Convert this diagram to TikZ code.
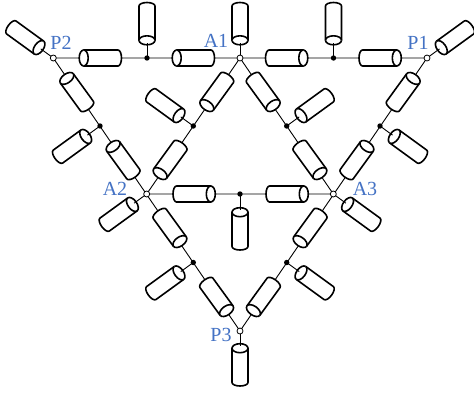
\documentclass[tikz,border=0pt]{standalone}
\usepackage{fontspec}
\setmainfont{Liberation Serif}
\definecolor{lab}{HTML}{4472C4}
\tikzset{
  x=1pt,y=-1pt,
  cylbody/.style={draw=black,fill=white,line width=1.6pt,line join=round},
  cyl/.pic={
    \path[cylbody] (-17.5,8) -- (16.8,8) arc[start angle=270,end angle=450,x radius=4.5,y radius=-8] -- (-17.5,-8) arc[start angle=90,end angle=270,x radius=3.5,y radius=-8] -- cycle;
    \path[cylbody] (16.8,8) arc[start angle=270,end angle=90,x radius=4.5,y radius=-8];
    \coordinate (-face) at (19,0);
  },
  open/.style={circle,draw=black,fill=white,line width=.8pt,minimum size=6pt,inner sep=0pt,outer sep=0pt},
  jdot/.style={circle,fill=black,minimum size=5.4pt,inner sep=0pt,outer sep=0pt},
  lbl/.style={text=lab,font=\fontsize{20}{20}\selectfont,inner sep=0pt},
  wire/.style={line width=.9pt,black}
}
\begin{document}
\begin{tikzpicture}
\useasboundingbox (0,0) rectangle (474,392);
\coordinate (P2) at (53.3,58);
\coordinate (A1) at (240,58);
\coordinate (P1) at (427,58);
\coordinate (A2) at (146.7,194);
\coordinate (A3) at (333.3,194);
\coordinate (P3) at (240,331);
\coordinate (Mt1) at (147,58);
\coordinate (Mt2) at (333.5,58);
\coordinate (Mb) at (240,194);
\coordinate (Ml1) at (100,126);
\coordinate (Ml2) at (193.3,126);
\coordinate (Mr1) at (286.7,126);
\coordinate (Mr2) at (380,126);
\coordinate (Md1) at (193.3,262.5);
\coordinate (Md2) at (286.7,262.5);
% wires
\draw[wire] (P2)--(A1)--(P1)--(P3)--(P2);
\draw[wire] (A1)--(A2)--(A3)--(A1);
% cylinders along the edges
\pic[rotate=180] (c1) at (100.5,58) {cyl};
\pic[rotate=180] (c2) at (193.5,58) {cyl};
\pic[rotate=0] (c3) at (286.5,58) {cyl};
\pic[rotate=0] (c4) at (380,58) {cyl};
\pic[rotate=0] (c5) at (194,194) {cyl};
\pic[rotate=0] (c6) at (287,194) {cyl};
\pic[rotate=126] (c7) at (76.7,92) {cyl};
\pic[rotate=126] (c8) at (123,160) {cyl};
\pic[rotate=234] (c9) at (216.7,92) {cyl};
\pic[rotate=234] (c10) at (170,160) {cyl};
\pic[rotate=-54] (c11) at (263.3,92) {cyl};
\pic[rotate=-54] (c12) at (310,160) {cyl};
\pic[rotate=54] (c13) at (403.3,92) {cyl};
\pic[rotate=54] (c14) at (357,160) {cyl};
\pic[rotate=-54] (c15) at (170,228) {cyl};
\pic[rotate=-54] (c16) at (216.7,297) {cyl};
\pic[rotate=234] (c17) at (310,228) {cyl};
\pic[rotate=234] (c18) at (263.3,297) {cyl};
% stubs
\pic[rotate=-90] (s1) at (147,23.5) {cyl};
\pic[rotate=-90] (s2) at (240,23.5) {cyl};
\pic[rotate=-90] (s3) at (333.5,23.5) {cyl};
\pic[rotate=90] (s4) at (240,229) {cyl};
\pic[rotate=90] (s5) at (240,365) {cyl};
\pic[rotate=-36] (s6) at (25.4,37.7) {cyl};
\pic[rotate=216] (s7) at (454.9,37.7) {cyl};
\pic[rotate=36] (s8) at (72.1,146.3) {cyl};
\pic[rotate=-36] (s9) at (165.4,105.7) {cyl};
\pic[rotate=216] (s10) at (314.6,105.7) {cyl};
\pic[rotate=144] (s11) at (407.9,146.3) {cyl};
\pic[rotate=36] (s12) at (165.4,282.8) {cyl};
\pic[rotate=144] (s13) at (314.6,282.8) {cyl};
\pic[rotate=36] (s14) at (118.8,214.3) {cyl};
\pic[rotate=144] (s15) at (361.2,214.3) {cyl};
% stub wires
\draw[wire] (Mt1)--(s1-face) (A1)--(s2-face) (Mt2)--(s3-face) (Mb)--(s4-face) (P3)--(s5-face);
\draw[wire] (P2)--(s6-face) (P1)--(s7-face) (Ml1)--(s8-face) (Ml2)--(s9-face) (Mr1)--(s10-face) (Mr2)--(s11-face) (Md1)--(s12-face) (Md2)--(s13-face) (A2)--(s14-face) (A3)--(s15-face);
% junctions
\foreach \p in {P1,P2,P3,A1,A2,A3} \node[open] (n\p) at (\p) {};
\foreach \p in {Mt1,Mt2,Mb,Ml1,Ml2,Mr1,Mr2,Md1,Md2} \node[jdot] (n\p) at (\p) {};
% labels
\node[lbl] (lp2) at (61,43) {P2};
\node[lbl] (la1) at (216,40.5) {A1};
\node[lbl] (lp1) at (418,43) {P1};
\node[lbl] (la2) at (115,189) {A2};
\node[lbl] (la3) at (365,189) {A3};
\node[lbl] (lp3) at (221,335) {P3};
\end{tikzpicture}
\end{document}
